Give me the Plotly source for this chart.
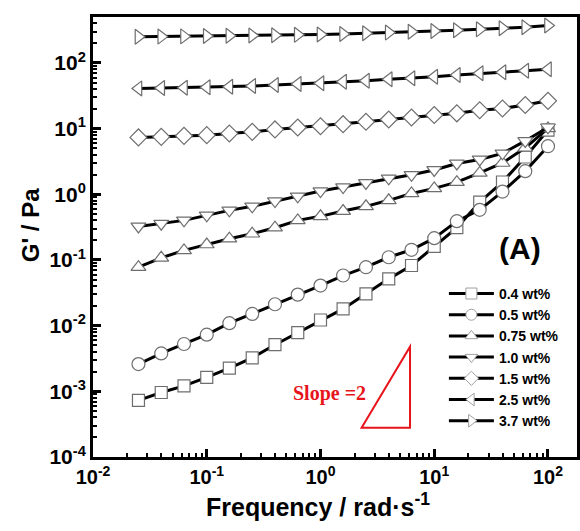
import plotly.graph_objects as go

# ---- data ----
freq = [0.0251, 0.0398, 0.0631, 0.1, 0.158, 0.251, 0.398, 0.631, 1.0, 1.58,
        2.51, 3.98, 6.31, 10.0, 15.8, 25.1, 39.8, 63.1, 100.0]

g_04 = [0.00073, 0.00096, 0.00121, 0.00163, 0.00226, 0.00324, 0.00513, 0.00782,
        0.0122, 0.018, 0.0305, 0.0516, 0.0824, 0.161, 0.31, 0.76, 1.54, 3.7, 9.5]
g_05 = [0.0026, 0.00378, 0.00526, 0.00729, 0.0109, 0.0151, 0.0212, 0.0297,
        0.0408, 0.058, 0.0776, 0.11, 0.143, 0.215, 0.39, 0.58, 1.1, 2.25, 5.4]
g_075 = [0.0776, 0.108, 0.14, 0.172, 0.211, 0.251, 0.31, 0.401, 0.462, 0.556,
         0.656, 0.81, 1.03, 1.23, 1.53, 2.12, 3.0, 5.1, 10.1]
g_10 = [0.324, 0.357, 0.401, 0.478, 0.57, 0.656, 0.79, 0.932, 1.12, 1.29,
        1.49, 1.75, 1.98, 2.35, 2.95, 3.4, 4.2, 6.5, 10.5]
g_15 = [7.35, 7.5, 7.76, 7.96, 8.45, 8.93, 9.73, 10.4, 10.9, 11.7,
        12.7, 13.8, 14.8, 16.1, 17.1, 19.1, 20.3, 22.9, 26.5]
g_25 = [41.0, 41.5, 42.0, 42.6, 43.5, 44.6, 46.1, 47.8, 49.0, 51.9,
        53.7, 56.4, 58.4, 61.8, 65.6, 69.6, 72.1, 76.3, 80.1]
g_37 = [250, 252, 254, 257, 259, 262, 265, 268, 272, 277,
        283, 290, 298, 306, 315, 325, 337, 350, 372]

series_names = ["0.4 wt%", "0.5 wt%", "0.75 wt%", "1.0 wt%", "1.5 wt%", "2.5 wt%", "3.7 wt%"]
series_values = [g_04, g_05, g_075, g_10, g_15, g_25, g_37]
symbols = ["square", "circle", "triangle-up", "triangle-down", "diamond", "triangle-left", "triangle-right"]
sizes = [12, 13, 13, 13, 13, 13, 13]

x_tickvals = [0.01, 0.1, 1, 10, 100]
x_ticktext = ["10<sup>-2</sup>", "10<sup>-1</sup>", "10<sup>0</sup>", "10<sup>1</sup>", "10<sup>2</sup>"]
y_tickvals = [1e-4, 1e-3, 1e-2, 1e-1, 1, 10, 100]
y_ticktext = ["10<sup>-4</sup>", "10<sup>-3</sup>", "10<sup>-2</sup>", "10<sup>-1</sup>",
              "10<sup>0</sup>", "10<sup>1</sup>", "10<sup>2</sup>"]

MARKER_LINE = "#6e6e6e"
RED = "#e8141b"

fig = go.Figure()
for name, vals, sym, sz in zip(series_names, series_values, symbols, sizes):
    fig.add_trace(go.Scatter(
        x=freq, y=vals, mode="lines+markers", name=name, showlegend=False,
        line=dict(color="black", width=3),
        marker=dict(symbol=sym, size=sz, color="white",
                    line=dict(color=MARKER_LINE, width=1.2)),
    ))
# legend-only entries with smaller markers
for name, sym in zip(series_names, symbols):
    fig.add_trace(go.Scatter(
        x=[None], y=[None], mode="lines+markers", name=name, showlegend=True,
        line=dict(color="black", width=3),
        marker=dict(symbol=sym, size=11, color="white",
                    line=dict(color="#a0a0a0", width=1)),
    ))

axis_common = dict(
    type="log", showline=True, linecolor="black", linewidth=3, mirror=True,
    ticks="inside", ticklen=8, tickwidth=3, tickcolor="black",
    showgrid=False, zeroline=False, automargin=False,
    minor=dict(ticks="inside", ticklen=4, tickwidth=2, tickcolor="black",
               dtick="D1", showgrid=False),
)

fig.update_xaxes(range=[-2, 2.255], tickvals=x_tickvals, ticktext=x_ticktext,
                 tickfont=dict(family="Liberation Sans", size=20, color="black", weight="bold"),
                 **axis_common)
fig.update_yaxes(range=[-4, 2.7], tickvals=y_tickvals, ticktext=y_ticktext,
                 tickfont=dict(family="Liberation Sans", size=21, color="black", weight="bold"),
                 **axis_common)

fig.update_layout(
    template="none",
    width=580, height=531,
    margin=dict(l=93, r=3, t=17, b=74, autoexpand=False),
    paper_bgcolor="white", plot_bgcolor="white",
    font=dict(family="Liberation Sans", color="black"),
    legend=dict(x=0.725, y=0.407, xanchor="left", yanchor="top",
                bgcolor="rgba(0,0,0,0)", borderwidth=0,
                font=dict(family="Liberation Sans", size=14, color="black", weight="bold"),
                itemwidth=45, tracegroupgap=0),
    annotations=[
        dict(text="Frequency / rad·s<sup>-1</sup>", xref="paper", yref="paper",
             x=0.465, y=-0.108, xanchor="center", yanchor="middle", showarrow=False,
             font=dict(family="Liberation Sans", size=25, color="black", weight="bold")),
        dict(text="G' / Pa", xref="paper", yref="paper", textangle=-90,
             x=-0.130, y=0.527, xanchor="center", yanchor="middle", showarrow=False,
             font=dict(family="Liberation Sans", size=24, color="black", weight="bold")),
        dict(text="(A)", xref="paper", yref="paper",
             x=0.882, y=0.473, xanchor="center", yanchor="middle", showarrow=False,
             font=dict(family="Liberation Sans", size=30, color="black", weight="bold")),
        dict(text="Slope =2", xref="paper", yref="paper",
             x=0.488, y=0.145, xanchor="center", yanchor="middle", showarrow=False,
             font=dict(family="Liberation Serif", size=20, color=RED, weight="bold")),
    ],
    shapes=[
        dict(type="path", xref="paper", yref="paper",
             path="M0.555,0.0666 L0.655,0.0666 L0.655,0.2507 Z",
             line=dict(color=RED, width=2)),
    ],
)

fig.write_html("out.html", config={"displayModeBar": False},
               post_script="document.body.style.margin='0';")
